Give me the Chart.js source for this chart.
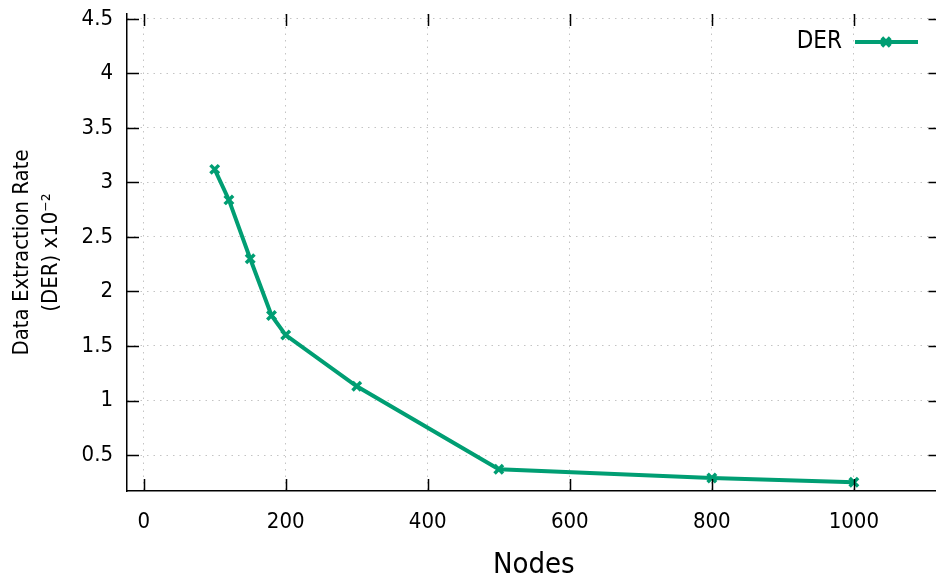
<!DOCTYPE html>
<html><head><meta charset="utf-8">
<script src="https://cdn.jsdelivr.net/npm/chart.js@4.4.1/dist/chart.umd.min.js"></script>
<style>html,body{margin:0;padding:0;background:#fff;overflow:hidden;} #wrap{position:relative;width:950px;height:580px;}</style>
</head><body><div id="wrap"><canvas id="c"></canvas></div>
<script>
const nodes = [100, 120, 150, 180, 200, 300, 500, 800, 1000];
const derValues = [3.12, 2.84, 2.30, 1.78, 1.60, 1.13, 0.37, 0.29, 0.25];
const xTickValues = [0, 200, 400, 600, 800, 1000];
const yTickValues = [0.5, 1, 1.5, 2, 2.5, 3, 3.5, 4, 4.5];
const seriesLabel = 'DER';
const xTitle = 'Nodes';
const yTitle = ['Data Extraction Rate', '(DER) x10⁻²'];

const FONT = "'DejaVu Sans Condensed', 'DejaVu Sans', sans-serif";
const GREEN = '#009e73';

const innerTicks = {
  id: 'innerTicks',
  afterDraw(chart) {
    const {ctx, chartArea: a, scales: {x, y}} = chart;
    ctx.save();
    ctx.strokeStyle = '#000';
    ctx.lineWidth = 1.5;
    ctx.beginPath();
    xTickValues.forEach(v => {
      const px = Math.round(x.getPixelForValue(v)) + 0.5;
      ctx.moveTo(px, a.bottom); ctx.lineTo(px, a.bottom - 12);
      ctx.moveTo(px, a.top); ctx.lineTo(px, a.top + 12);
    });
    yTickValues.forEach(v => {
      const py = Math.round(y.getPixelForValue(v)) + 0.5;
      ctx.moveTo(a.left, py); ctx.lineTo(a.left + 12, py);
      ctx.moveTo(a.right, py); ctx.lineTo(a.right - 12, py);
    });
    ctx.stroke();
    // legend
    const ds = chart.data.datasets[0];
    const ly = 42;
    ctx.fillStyle = '#000';
    ctx.font = "24px " + FONT;
    ctx.textAlign = 'right';
    ctx.textBaseline = 'middle';
    ctx.fillText(ds.label, 842, ly);
    ctx.strokeStyle = ds.borderColor;
    ctx.lineWidth = ds.borderWidth;
    ctx.beginPath();
    ctx.moveTo(855, ly); ctx.lineTo(918, ly);
    ctx.stroke();
    ctx.strokeStyle = ds.pointBorderColor;
    Chart.helpers.drawPoint(ctx, {pointStyle: 'crossRot', radius: ds.pointRadius, borderWidth: ds.pointBorderWidth}, 886, ly);
    ctx.restore();
  }
};

new Chart(document.getElementById('c'), {
  type: 'line',
  data: {
    datasets: [{
      label: seriesLabel,
      data: nodes.map((n, i) => ({x: n, y: derValues[i]})),
      borderColor: GREEN,
      backgroundColor: GREEN,
      borderWidth: 4,
      pointStyle: 'crossRot',
      pointRadius: 6,
      pointBorderWidth: 3.5,
      pointBorderColor: GREEN,
      tension: 0,
      fill: false
    }]
  },
  options: {
    responsive: true,
    maintainAspectRatio: false,
    animation: false,
    layout: {padding: {top: 14, right: 6, left: 0, bottom: 0}},
    plugins: {legend: {display: false}, tooltip: {enabled: false}},
    scales: {
      x: {
        type: 'linear',
        min: -23.5,
        max: 1122,
        afterBuildTicks: s => { s.ticks = xTickValues.map(v => ({value: v})); },
        afterFit: s => { s.height = 89; s.paddingLeft = 0; s.paddingRight = 0; },
        ticks: {
          callback: v => String(v),
          color: '#000',
          font: {family: FONT, size: 22},
          padding: 18,
          maxRotation: 0,
          autoSkip: false
        },
        grid: {color: '#c4c4c4', lineWidth: 1, drawTicks: false},
        border: {display: true, color: '#000', width: 1.5, dash: [1.5, 5]},
        title: {display: true, text: xTitle, color: '#000', font: {family: FONT, size: 29, lineHeight: 1.0}, padding: {top: 0, bottom: 0}}
      },
      y: {
        type: 'linear',
        min: 0.17,
        max: 4.545,
        afterBuildTicks: s => { s.ticks = yTickValues.map(v => ({value: v})); },
        afterFit: s => { s.width = 127; s.paddingTop = 0; s.paddingBottom = 0; },
        ticks: {
          callback: v => String(v),
          color: '#000',
          font: {family: FONT, size: 22},
          padding: 14,
          autoSkip: false
        },
        grid: {color: '#c4c4c4', lineWidth: 1, drawTicks: false},
        border: {display: true, color: '#000', width: 1.5, dash: [1.5, 5]},
        title: {display: true, text: yTitle, color: '#000', font: {family: FONT, size: 22, lineHeight: 1.3}, padding: {top: 8, bottom: 0}}
      }
    }
  },
  plugins: [innerTicks]
});
</script></body></html>
